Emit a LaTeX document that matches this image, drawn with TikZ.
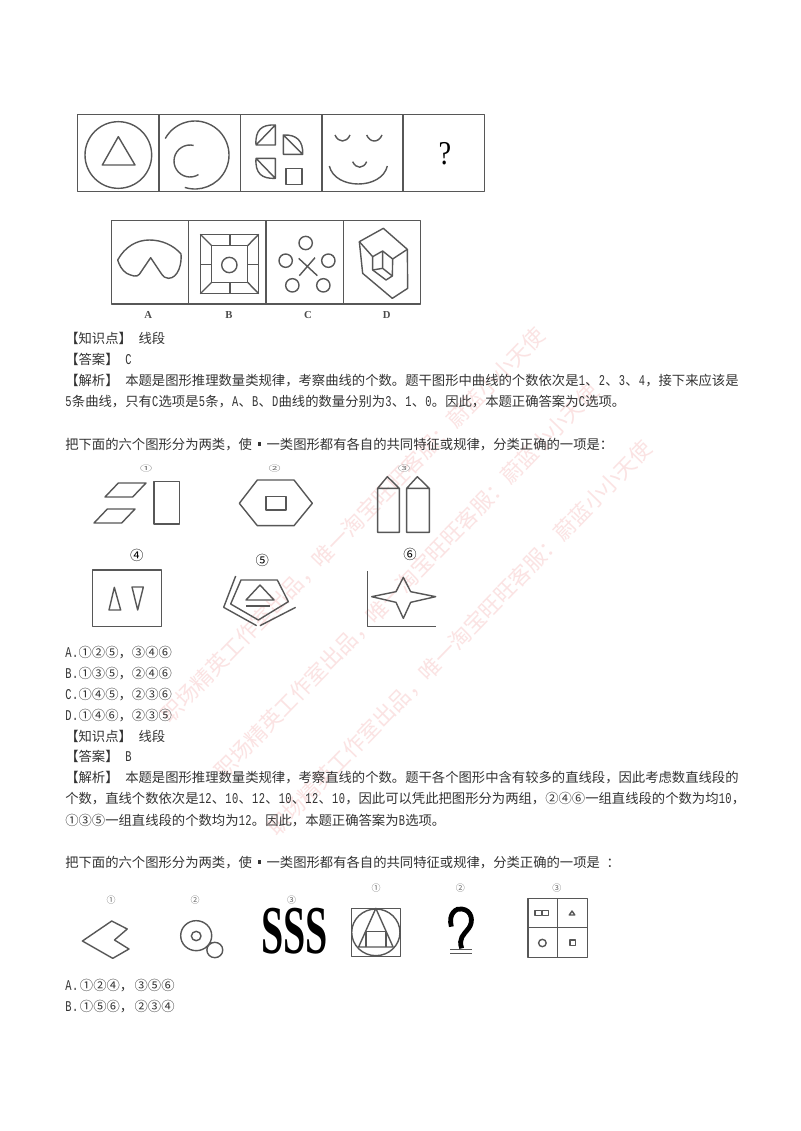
\documentclass[tikz,border=0pt]{standalone}
\usepackage{graphicx}
\usepackage{fontspec}
\setmainfont{Noto Sans CJK SC}
\newfontfamily\lat{Liberation Mono}
\newfontfamily\serifl{Liberation Serif}
\makeatletter
\def\hwloop#1{\ifx#1\relax\else\makebox[5pt]{\scalebox{0.78}[1.12]{\lat #1}}\expandafter\hwloop\fi}
\newcommand\hw[1]{\hwloop#1\relax}
\makeatother
\newcommand\gp{\hspace{5pt}}
\newcommand\mk{\makebox[11pt]{\rule[2.5pt]{2pt}{3pt}}}
\definecolor{ink}{gray}{0.2}
\definecolor{fig}{gray}{0.34}
\definecolor{wmred}{HTML}{FBE3E3}
\tikzset{
  txt/.style={anchor=base west,inner sep=0pt,text=ink,font=\fontsize{10}{10}\selectfont},
  wm/.style={inner sep=0pt,text=wmred,font=\fontsize{16.2}{16}\selectfont,rotate=45.8},
  ln/.style={draw=fig,line width=1.05pt,line join=round},
  lbl/.style={inner sep=0pt,text=black!70,font=\serifl\bfseries\fontsize{8}{9}\selectfont},
  smallnum/.style={inner sep=0pt,text=black!60,font=\fontsize{9}{8}\selectfont},
  midnum/.style={inner sep=0pt,text=black,font=\fontsize{10}{9}\selectfont}
}
\newcommand\wmtext{职场精英工作室出品，唯一淘宝旺旺客服：蔚蓝小小天使}
\begin{document}
\begin{tikzpicture}[x=0.75pt,y=-0.75pt]
\useasboundingbox (0,0) rectangle (800,1131);
\fill[white] (0,0) rectangle (800,1131);
% watermarks
\node[wm] (w1) at (353,525) {\wmtext};
\node[wm] (w2) at (407,581) {\wmtext};
\node[wm] (w3) at (460,638) {\wmtext};
% first figure row (coordinates of a 3x crop)
\begin{scope}[shift={(70,105)},x=0.25pt,y=-0.25pt]
\draw[ln] (23,28) rectangle (1244,260);
\foreach \i in {267,511,756,999} \draw[ln] (\i,28) -- (\i,260);
\draw[ln] (145,150) circle (100);
\draw[ln] (145,95) -- (97,180) -- (195,180) -- cycle;
\draw[ln] ([shift={(-151:102)}]375,150) arc (-151:107.5:102);
\draw[ln] ([shift={(-77:48)}]360,168) arc (-77:-302:48);
\draw[ln] (558,120) .. controls (555,75) and (575,58) .. (616,60) -- (616,120) -- cycle (558,120) -- (616,60);
\draw[ln] (640,90) .. controls (680,88) and (700,108) .. (698,148) -- (640,148) -- cycle (640,90) -- (698,148);
\draw[ln] (558,160) .. controls (555,205) and (575,222) .. (616,220) -- (616,160) -- cycle (558,160) -- (616,220);
\draw[ln] (648,190) rectangle (696,238);
\draw[ln] (795,90) .. controls (805,114) and (830,114) .. (840,90);
\draw[ln] (890,90) .. controls (900,114) and (926,114) .. (936,90);
\draw[ln] (848,170) .. controls (858,192) and (880,192) .. (890,170);
\draw[ln] (778,183) .. controls (795,255) and (935,255) .. (952,183);
\node[inner sep=0pt,text=black,font=\serifl\fontsize{25}{25}\selectfont] (qm) at (1125,146) {\scalebox{0.85}[1]{?}};
% options
\draw[ln] (124,346) rectangle (1052,597);
\foreach \i in {356,588,820} \draw[ln] (\i,346) -- (\i,597);
\draw[ln] (242,458) -- (208,508) .. controls (200,518) and (185,512) .. (170,505) .. controls (155,495) and (148,480) .. (143,465) .. controls (165,425) and (200,405) .. (238,405) .. controls (275,405) and (310,420) .. (333,447) .. controls (336,475) and (325,520) .. (295,520) .. controls (285,520) and (280,515) .. (272,503) -- cycle;
\draw[ln] (391,388) rectangle (566,566) (425,422) rectangle (533,532);
\draw[ln] (391,388) -- (425,422) (566,388) -- (533,422) (391,566) -- (425,532) (566,566) -- (533,532);
\draw[ln] (480,388) -- (480,422) (480,532) -- (480,566) (391,478) -- (425,478) (533,478) -- (566,478);
\draw[ln] (478,480) circle (23);
\foreach \p in {(707,414),(647,467),(775,467),(667,541),(760,541)} \draw[ln] \p circle (20);
\draw[ln] (686,460) -- (742,512) (735,458) -- (688,512);
\draw[ln] (868,410) -- (940,370) -- (1012,433) -- (1013,550) -- (967,580) -- (878,505) -- cycle;
\draw[ln] (868,410) -- (908,455) -- (938,438) -- (968,462) -- (1012,433);
\draw[ln] (968,462) -- (967,513) -- (948,525) -- (908,495) -- (908,455);
\draw[ln] (938,438) -- (938,490) -- (908,495) (938,490) -- (967,513);
\node[lbl] (la) at (235,630) {A};
\node[lbl] (lb) at (477,630) {B};
\node[lbl] (lc) at (714,630) {C};
\node[lbl] (ld) at (950,630) {D};
\end{scope}
% text 1
\node[txt] (t1) at (65,343) {【知识点】\gp 线段};
\node[txt] (t2) at (65,364) {【答案】\gp\hw{C}};
\node[txt] (t3) at (65,385) {【解析】\gp 本题是图形推理数量类规律，考察曲线的个数。题干图形中曲线的个数依次是\hw{1}、\hw{2}、\hw{3}、\hw{4}，接下来应该是};
\node[txt] (t4) at (65,406) {\hw{5}条曲线，只有\hw{C}选项是\hw{5}条，\hw{A}、\hw{B}、\hw{D}曲线的数量分别为\hw{3}、\hw{1}、\hw{0}。因此，本题正确答案为\hw{C}选项。};
\node[txt] (t5) at (65,449) {把下面的六个图形分为两类，使\mk 一类图形都有各自的共同特征或规律，分类正确的一项是：};
% six figures
\begin{scope}[shift={(70,455)},x=0.25pt,y=-0.25pt]
\node[smallnum] (n1) at (228,42) {\scalebox{1}[0.65]{①}};
\node[smallnum] (n2) at (614,42) {\scalebox{1}[0.65]{②}};
\node[smallnum] (n3) at (1002,42) {\scalebox{1}[0.65]{③}};
\draw[ln] (145,84) -- (228,84) -- (188,126) -- (105,126) -- cycle;
\draw[ln] (112,162) -- (195,162) -- (155,204) -- (72,204) -- cycle;
\draw[ln] (252,79) rectangle (328,207);
\draw[ln] (562,75) -- (672,75) -- (727,145) -- (672,212) -- (562,212) -- (508,145) -- cycle;
\draw[ln] (588,125) rectangle (648,165);
\draw[ln] (923,100) -- (952,65) -- (988,100) -- (988,232) -- (923,232) -- cycle (923,100) -- (988,100);
\draw[ln] (1010,100) -- (1042,65) -- (1078,100) -- (1078,232) -- (1010,232) -- cycle (1010,100) -- (1078,100);
\node[midnum] (n4) at (200,302) {④};
\node[midnum] (n5) at (577,315) {⑤};
\node[midnum] (n6) at (1020,298) {⑥};
\draw[ln] (67,345) rectangle (274,515);
\draw[ln] (133,397) -- (117,465) -- (152,465) -- cycle;
\draw[ln] (186,396) -- (220,396) -- (203,465) -- cycle;
\draw[ln] (513,375) -- (622,375) -- (655,440) -- (565,495) -- (482,447) -- cycle;
\draw[ln] (570,390) -- (528,435) -- (612,435) -- cycle;
\draw[ln] (528,453) -- (600,453);
\draw[ln] (497,363) -- (461,457) -- (560,512);
\draw[ln] (570,512) -- (677,457);
\draw[ln] (893,348) -- (893,515) -- (1097,515);
\draw[ln] (1000,367) -- (1022,410) -- (1097,425) -- (1022,442) -- (1000,490) -- (978,442) -- (905,425) -- (978,410) -- cycle;
\end{scope}
% text 2
\node[txt] (t6) at (65,657) {\hw{A.}①②⑤，③④⑥};
\node[txt] (t7) at (65,678) {\hw{B.}①③⑤，②④⑥};
\node[txt] (t8) at (65,699) {\hw{C.}①④⑤，②③⑥};
\node[txt] (t9) at (65,720) {\hw{D.}①④⑥，②③⑤};
\node[txt] (t10) at (65,741) {【知识点】\gp 线段};
\node[txt] (t11) at (65,761) {【答案】\gp\hw{B}};
\node[txt] (t12) at (65,782) {【解析】\gp 本题是图形推理数量类规律，考察直线的个数。题干各个图形中含有较多的直线段，因此考虑数直线段的};
\node[txt] (t13) at (65,803) {个数，直线个数依次是\hw{12}、\hw{10}、\hw{12}、\hw{10}、\hw{12}、\hw{10}，因此可以凭此把图形分为两组，②④⑥一组直线段的个数为均\hw{10}，};
\node[txt] (t14) at (65,825) {①③⑤一组直线段的个数均为\hw{12}。因此，本题正确答案为\hw{B}选项。};
\node[txt] (t15) at (65,867) {把下面的六个图形分为两类，使\mk 一类图形都有各自的共同特征或规律，分类正确的一项是\gp：};
% last figures (crop scaled 2.9 x 3)
\begin{scope}[shift={(60,885)},x=0.2586pt,y=-0.25pt]
\node[smallnum] (m1) at (148,45) {\scalebox{0.75}{①}};
\node[smallnum] (m2) at (392,45) {\scalebox{0.75}{②}};
\node[smallnum] (m3) at (672,45) {\scalebox{0.75}{③}};
\node[smallnum] (m4) at (917,10) {\scalebox{0.75}{①}};
\node[smallnum] (m5) at (1161,10) {\scalebox{0.75}{②}};
\node[smallnum] (m6) at (1441,10) {\scalebox{0.75}{③}};
\draw[ln] (150,108) -- (195,132) -- (158,165) -- (200,192) -- (153,220) -- (65,168) -- cycle;
\draw[ln] (395,152) circle (45) (395,153) circle (14) (449,195) circle (23);
\node[inner sep=0pt,text=black,font=\serifl\bfseries] (sss) at (681,138) {\resizebox{50pt}{34pt}{SSS}};
\draw[ln] (845,70) rectangle (987,214);
\draw[ln] (916,142) circle (70);
\draw[ln] (866,186) -- (916,70) -- (966,186) -- cycle;
\draw[ln] (888,186) -- (888,140) -- (945,140) -- (945,186);
\draw[black,line width=3.6pt] (1135,125) .. controls (1125,85) and (1150,68) .. (1165,72) .. controls (1195,75) and (1200,110) .. (1185,130) .. controls (1170,150) and (1155,160) .. (1165,190);
\draw[ln] (1132,194) -- (1195,194) (1132,206) -- (1195,206);
\draw[ln] (1357,41) rectangle (1530,217);
\draw[ln] (1443,41) -- (1443,217) (1357,128) -- (1530,128);
\draw[ln] (1377,76) rectangle (1396,91) (1400,76) rectangle (1416,91);
\draw[ln] (1485,78) -- (1477,90) -- (1493,90) -- cycle;
\draw[ln] (1399,174) circle (11);
\draw[ln] (1479,165) rectangle (1495,181);
\end{scope}
\node[txt] (t16) at (65,990) {\hw{A.}\hspace{1pt}①②④，\hspace{1pt}③⑤⑥};
\node[txt] (t17) at (65,1011) {\hw{B.}\hspace{1pt}①⑤⑥，\hspace{1pt}②③④};
\end{tikzpicture}
\end{document}
